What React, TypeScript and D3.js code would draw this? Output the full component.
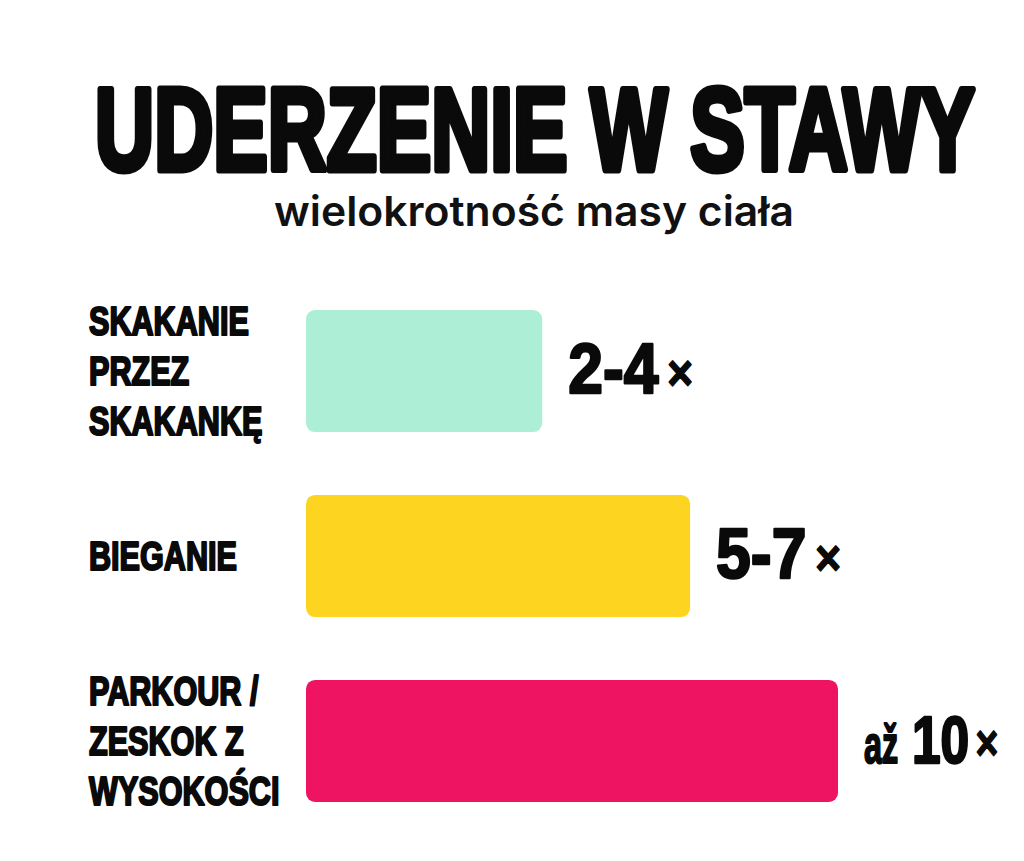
import * as d3 from 'd3';

const W = 1024;
const H = 861;

const title = 'UDERZENIE W STAWY';
const subtitle = 'wielokrotność masy ciała';

const activityLines = [
  ['SKAKANIE', 'PRZEZ', 'SKAKANKĘ'],
  ['BIEGANIE'],
  ['PARKOUR /', 'ZESKOK Z', 'WYSOKOŚCI'],
];
const activityKeys = ['skakanka', 'bieganie', 'parkour'];
const lowValues = [2, 5, 10];
const highValues = [4, 7, 10];
const barColors = ['#ADEFD6', '#FDD41F', '#EF1461'];

const HEAVY = "'Liberation Sans', Arial, sans-serif";

const inkProps = {
  fontFamily: HEAVY,
  fontWeight: 700,
  fill: '#0a0a0a',
  stroke: '#0a0a0a',
  strokeLinejoin: 'round' as const,
};

function ValueLabel({ low, high, x, y }: { low: number; high: number; x: number; y: number }) {
  const upTo = low === high;
  // "až" prefix for the single value, range "low-high" otherwise
  return (
    <g transform={`translate(${x},${y})`}>
      {upTo && (
        <text {...inkProps} transform="scale(0.6,1)" fontSize={54} strokeWidth={2}>
          až
        </text>
      )}
      <text
        {...inkProps}
        transform={`translate(${upTo ? 48 : 0},0) scale(${upTo ? 0.78 : 0.88},1)`}
        strokeWidth={2.5}
      >
        <tspan fontSize={upTo ? 66 : 71}>{upTo ? String(high) : `${low}-${high}`}</tspan>
        <tspan fontSize={50} dx={upTo ? 8 : 10} dy={-3} strokeWidth={1.5}>
          ×
        </tspan>
      </text>
    </g>
  );
}

export default function App() {
  const xStart = 306;
  const xEnd = 838;
  const x = d3.scaleLinear().domain([0, 10]).range([xStart + 39, xEnd]);
  const y = d3.scaleBand<string>().domain(activityKeys).range([310, 802]).paddingInner(0.34);
  const lineH = 50;
  const capH = 30;

  return (
    <svg
      width={W}
      height={H}
      viewBox={`0 0 ${W} ${H}`}
      style={{ position: 'absolute', left: 0, top: 0, background: '#ffffff' }}
    >
      <rect width={W} height={H} fill="#ffffff" />

      {/* Title */}
      <text
        {...inkProps}
        transform="translate(535,170) scale(0.705,1)"
        textAnchor="middle"
        fontSize={116}
        strokeWidth={7}
      >
        {title}
      </text>
      <text
        x={534}
        y={226}
        textAnchor="middle"
        fontFamily="Inter, 'Noto Sans', sans-serif"
        fontWeight={600}
        fontSize={41}
        textLength={520}
        lengthAdjust="spacingAndGlyphs"
        fill="#111"
      >
        {subtitle}
      </text>

      {activityKeys.map((key, i) => {
        const y0 = y(key) ?? 0;
        const cy = y0 + y.bandwidth() / 2;
        const lines = activityLines[i];
        const firstBase = cy - ((lines.length - 1) * lineH) / 2 + capH / 2 - 1;
        const barEnd = x(highValues[i]);
        return (
          <g key={key}>
            {lines.map((ln, j) => (
              <text
                key={ln}
                {...inkProps}
                transform={`translate(89,${firstBase + j * lineH}) scale(0.765,1)`}
                fontSize={40}
                strokeWidth={2.2}
              >
                {ln}
              </text>
            ))}
            <rect
              x={xStart}
              y={y0}
              width={barEnd - xStart}
              height={y.bandwidth()}
              rx={9}
              fill={barColors[i]}
            />
            <ValueLabel low={lowValues[i]} high={highValues[i]} x={barEnd + 26} y={cy + 22} />
          </g>
        );
      })}
    </svg>
  );
}
